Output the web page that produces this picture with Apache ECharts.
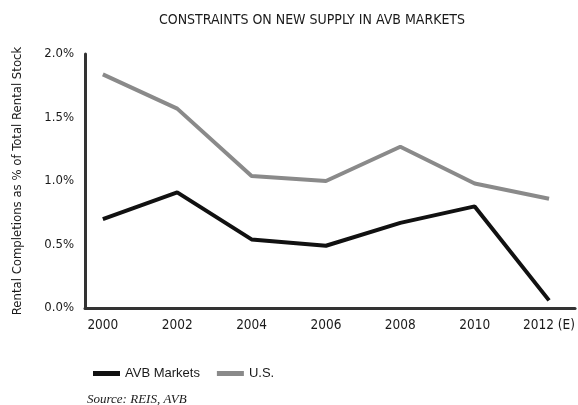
<!DOCTYPE html>
<html><head><meta charset="utf-8">
<script src="https://cdn.jsdelivr.net/npm/echarts@6/dist/echarts.min.js"></script>
<style>html,body{margin:0;padding:0;background:#fff}#c{width:578px;height:405px}</style>
</head><body><div id="c"></div>
<script>
const years = [2000, 2002, 2004, 2006, 2008, 2010, 2012];
const yearLabels = ['2000', '2002', '2004', '2006', '2008', '2010', '2012 (E)'];
const avbMarkets = [0.70, 0.91, 0.54, 0.49, 0.67, 0.80, 0.06];
const usValues = [1.84, 1.57, 1.04, 1.00, 1.27, 0.98, 0.86];
const yTicks = [0, 0.5, 1.0, 1.5, 2.0];

const narrow = '"DejaVu Sans Condensed", sans-serif';
const chart = echarts.init(document.getElementById('c'), null, {renderer: 'canvas'});
chart.setOption({
  backgroundColor: '#ffffff',
  animation: false,
  title: [{
    text: 'CONSTRAINTS ON NEW SUPPLY IN AVB MARKETS',
    left: 307, top: 8, textAlign: 'center',
    textStyle: {fontFamily: narrow, fontSize: 14, fontWeight: 'normal', color: '#1a1a1a'}
  }, {
    text: 'Source: REIS, AVB',
    left: 82, top: 388,
    textStyle: {fontFamily: '"Liberation Serif", serif', fontStyle: 'italic', fontSize: 13, fontWeight: 'normal', color: '#1a1a1a'}
  }],
  legend: {
    left: 88, top: 362,
    itemWidth: 27, itemHeight: 5, itemGap: 17,
    icon: 'rect',
    textStyle: {fontFamily: '"Liberation Sans", sans-serif', fontSize: 13, color: '#1a1a1a'},
    data: ['AVB Markets', 'U.S.']
  },
  grid: {left: 85, right: 0, top: 54, bottom: 97, containLabel: false},
  xAxis: {
    type: 'value', min: 1999.52, max: 2012.7,
    axisLine: {show: true, lineStyle: {color: '#333', width: 3}},
    axisTick: {show: false},
    splitLine: {show: false},
    axisLabel: {
      customValues: years,
      formatter: v => yearLabels[years.indexOf(v)],
      fontFamily: narrow, fontSize: 13.5, color: '#1a1a1a', margin: 10
    }
  },
  yAxis: {
    type: 'value', min: 0, max: 2.0, interval: 0.5,
    name: 'Rental Completions as % of Total Rental Stock',
    nameLocation: 'middle', nameGap: 61, nameRotate: 90,
    nameTextStyle: {fontFamily: narrow, fontSize: 13, color: '#1a1a1a'},
    axisLine: {show: true, lineStyle: {color: '#333', width: 3}},
    axisTick: {show: false},
    splitLine: {show: false},
    axisLabel: {
      formatter: v => yTicks.includes(v) ? v.toFixed(1) + '%' : '',
      fontFamily: narrow, fontSize: 13, color: '#1a1a1a', margin: 11
    }
  },
  series: [{
    name: 'AVB Markets', type: 'line',
    data: years.map((y, i) => [y, avbMarkets[i]]),
    symbol: 'none',
    lineStyle: {color: '#111', width: 4},
    itemStyle: {color: '#111'}
  }, {
    name: 'U.S.', type: 'line',
    data: years.map((y, i) => [y, usValues[i]]),
    symbol: 'none',
    lineStyle: {color: '#8a8a8a', width: 4},
    itemStyle: {color: '#8a8a8a'}
  }]
});
</script>
</body></html>
